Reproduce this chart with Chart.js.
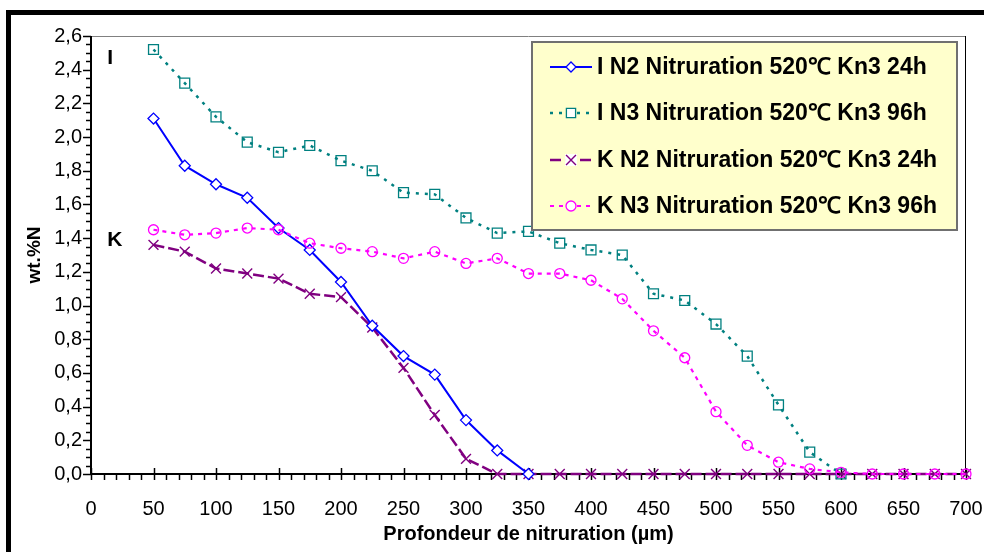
<!DOCTYPE html>
<html>
<head>
<meta charset="utf-8">
<script src="https://cdn.jsdelivr.net/npm/chart.js@4.4.1/dist/chart.umd.min.js"></script>
<style>
  html, body { margin: 0; padding: 0; background: #fff; }
  #wrap { width: 984px; height: 552px; position: relative; }
</style>
</head>
<body>
<div id="wrap"><canvas id="nitrChart" width="984" height="552"></canvas></div>
<script>
// depth in µm
const depth = [50, 75, 100, 125, 150, 175, 200, 225, 250, 275, 300, 325, 350, 375, 400,
               425, 450, 475, 500, 525, 550, 575, 600, 625, 650, 675, 700];

const iN2 = [2.11, 1.83, 1.72, 1.64, 1.46, 1.33, 1.14, 0.88, 0.70, 0.59, 0.32, 0.14, 0.00];
const iN3 = [2.52, 2.32, 2.12, 1.97, 1.91, 1.95, 1.86, 1.80, 1.67, 1.66, 1.52, 1.43, 1.44,
             1.37, 1.33, 1.30, 1.07, 1.03, 0.89, 0.70, 0.41, 0.13, 0.00];
const kN2 = [1.36, 1.32, 1.22, 1.19, 1.16, 1.07, 1.05, 0.87, 0.63, 0.35, 0.09, 0.00, 0.00,
             0.00, 0.00, 0.00, 0.00, 0.00, 0.00, 0.00, 0.00, 0.00, 0.00, 0.00, 0.00, 0.00, 0.00];
const kN3 = [1.45, 1.42, 1.43, 1.46, 1.45, 1.37, 1.34, 1.32, 1.28, 1.32, 1.25, 1.28, 1.19,
             1.19, 1.15, 1.04, 0.85, 0.69, 0.37, 0.17, 0.07, 0.03, 0.01, 0.00, 0.00, 0.00, 0.00];

const seriesNames = [
  'I N2 Nitruration 520\u2103 Kn3 24h',
  'I N3 Nitruration 520\u2103 Kn3 96h',
  'K N2 Nitruration 520\u2103 Kn3 24h',
  'K N3 Nitruration 520\u2103 Kn3 96h'
];

// little labels next to the curves
const noteText = ['I', 'K'];
const noteX = [13, 13];
const noteY = [2.47, 1.39];

const FONT = '"Liberation Sans", Arial, sans-serif';

function toPoints(vals) {
  return vals.map((v, i) => ({ x: depth[i], y: v }));
}

const datasets = [
  {
    label: seriesNames[0],
    data: toPoints(iN2),
    borderColor: '#0000ff',
    borderWidth: 2,
    borderDash: [],
    pointStyle: 'rectRot',
    pointRadius: 5.5,
    pointBorderWidth: 1.3,
    pointBackgroundColor: '#ffffff',
    pointBorderColor: '#0000ff',
    order: 2
  },
  {
    label: seriesNames[1],
    data: toPoints(iN3),
    borderColor: '#008080',
    borderWidth: 2.5,
    borderDash: [3, 6],
    pointStyle: 'rect',
    pointRadius: 7,
    pointBorderWidth: 1.3,
    pointBackgroundColor: 'rgba(255,255,255,0)',
    pointBorderColor: '#008080',
    order: 3
  },
  {
    label: seriesNames[2],
    data: toPoints(kN2),
    borderColor: '#800080',
    borderWidth: 2.5,
    borderDash: [11, 4],
    pointStyle: 'crossRot',
    pointRadius: 7,
    pointBorderWidth: 1.4,
    pointBackgroundColor: '#800080',
    pointBorderColor: '#800080',
    order: 4
  },
  {
    label: seriesNames[3],
    data: toPoints(kN3),
    borderColor: '#ff00ff',
    borderWidth: 2.2,
    borderDash: [4, 5],
    pointStyle: 'circle',
    pointRadius: 5,
    pointBorderWidth: 1.3,
    pointBackgroundColor: 'rgba(255,255,255,0)',
    pointBorderColor: '#ff00ff',
    order: 1
  }
];
datasets.forEach(d => { d.tension = 0; d.clip = false; d.fill = false; });

function drawMarker(ctx, style, x, y, r) {
  ctx.beginPath();
  if (style === 'rectRot') {
    ctx.moveTo(x, y - r); ctx.lineTo(x + r, y); ctx.lineTo(x, y + r); ctx.lineTo(x - r, y); ctx.closePath();
    ctx.fill(); ctx.stroke();
  } else if (style === 'rect') {
    const s = r * Math.SQRT1_2;
    ctx.rect(x - s, y - s, 2 * s, 2 * s);
    ctx.fill(); ctx.stroke();
  } else if (style === 'crossRot') {
    const s = r * Math.SQRT1_2;
    ctx.fillRect(x - s - 1, y - s - 1, 2 * s + 2, 2 * s + 2);
    ctx.moveTo(x - s, y - s); ctx.lineTo(x + s, y + s);
    ctx.moveTo(x + s, y - s); ctx.lineTo(x - s, y + s);
    ctx.stroke();
  } else {
    ctx.arc(x, y, r, 0, Math.PI * 2);
    ctx.fill(); ctx.stroke();
  }
}

// axes, tick marks and plot frame (drawn under the data)
const axesPlugin = {
  id: 'axesPlugin',
  beforeDatasetsDraw(chart) {
    const ctx = chart.ctx;
    const a = chart.chartArea;
    const xs = chart.scales.x, ys = chart.scales.y;
    ctx.save();
    // plot frame
    ctx.strokeStyle = '#808080';
    ctx.lineWidth = 1;
    ctx.beginPath();
    ctx.moveTo(a.left, a.top + 0.5); ctx.lineTo(a.right, a.top + 0.5);
    ctx.stroke();
    ctx.strokeStyle = '#000';
    ctx.beginPath();
    ctx.moveTo(a.right - 0.5, a.top); ctx.lineTo(a.right - 0.5, a.bottom);
    ctx.stroke();

    ctx.strokeStyle = '#000';
    ctx.lineWidth = 1.5;
    // y ticks
    for (let v = 0; v <= 2.6001; v += 0.05) {
      const py = Math.round(ys.getPixelForValue(v)) + 0.5;
      const major = Math.abs(v / 0.2 - Math.round(v / 0.2)) < 0.01;
      ctx.beginPath();
      ctx.moveTo(a.left - (major ? 8 : 5), py);
      ctx.lineTo(a.left, py);
      ctx.stroke();
    }
    // x ticks
    for (let v = 0; v <= 700; v += 10) {
      const px = Math.round(xs.getPixelForValue(v)) + 0.5;
      const major = v % 50 === 0;
      ctx.beginPath();
      ctx.moveTo(px, major ? a.bottom - 6 : a.bottom);
      ctx.lineTo(px, a.bottom + 6);
      ctx.stroke();
    }
    // axis lines
    ctx.lineWidth = 2;
    ctx.beginPath();
    ctx.moveTo(a.left, a.top); ctx.lineTo(a.left, a.bottom);
    ctx.lineTo(a.right, a.bottom);
    ctx.stroke();
    ctx.restore();
  },
  afterDraw(chart) {
    const ctx = chart.ctx;
    const xs = chart.scales.x, ys = chart.scales.y;
    ctx.save();
    // outer frame
    ctx.fillStyle = '#000';
    ctx.fillRect(6, 10, 978, 5);
    ctx.fillRect(6, 10, 5, 542);

    // curve labels
    ctx.font = 'bold 21px ' + FONT;
    ctx.textAlign = 'left';
    ctx.textBaseline = 'middle';
    noteText.forEach((t, i) => {
      ctx.fillText(t, xs.getPixelForValue(noteX[i]), ys.getPixelForValue(noteY[i]));
    });

    // legend box
    const bx = 532, by = 42, bw = 425, bh = 188;
    ctx.fillStyle = '#ffffcc';
    ctx.fillRect(bx, by, bw, bh);
    ctx.strokeStyle = '#707070';
    ctx.lineWidth = 2;
    ctx.strokeRect(bx, by, bw, bh);

    const rowY = [67, 113, 160, 206];
    chart.data.datasets.forEach((ds, i) => {
      const y = rowY[i];
      ctx.strokeStyle = ds.borderColor;
      ctx.lineWidth = ds.borderWidth;
      ctx.setLineDash(ds.borderDash);
      ctx.beginPath();
      ctx.moveTo(550, y); ctx.lineTo(592, y);
      ctx.stroke();
      ctx.setLineDash([]);
      ctx.lineWidth = ds.pointBorderWidth;
      ctx.strokeStyle = ds.pointBorderColor;
      ctx.fillStyle = '#ffffff';
      const r = ds.pointStyle === 'rect' ? 6.5 : (ds.pointStyle === 'crossRot' ? 7 : 5);
      drawMarker(ctx, ds.pointStyle, 571, y, r);
      ctx.fillStyle = '#000';
      ctx.font = 'bold 23px ' + FONT;
      ctx.textAlign = 'left';
      ctx.textBaseline = 'middle';
      ctx.fillText(ds.label, 597, y + 1);
    });
    ctx.restore();
  }
};

new Chart(document.getElementById('nitrChart'), {
  type: 'line',
  data: { datasets: datasets },
  options: {
    responsive: false,
    animation: false,
    layout: { padding: { left: 20, right: 18, top: 36, bottom: 0 } },
    plugins: { legend: { display: false }, tooltip: { enabled: false } },
    scales: {
      x: {
        type: 'linear',
        min: 0, max: 700,
        border: { display: false },
        grid: { display: false, drawTicks: false },
        ticks: { stepSize: 50, padding: 23, color: '#000', font: { family: FONT, size: 20 }, maxRotation: 0 },
        title: { display: true, text: 'Profondeur de nitruration (\u00b5m)', color: '#000',
                 font: { family: FONT, size: 20, weight: 'bold' }, padding: { top: 4, bottom: 6 } },
        afterFit(scale) {
          scale.height = 78;
          scale.paddingLeft = 0;
          scale.paddingRight = 0;
        }
      },
      y: {
        min: 0, max: 2.6,
        border: { display: false },
        grid: { display: false, drawTicks: false },
        ticks: { stepSize: 0.2, padding: 9, color: '#000', font: { family: FONT, size: 20 },
                 callback: v => v.toFixed(1).replace('.', ',') },
        title: { display: true, text: 'wt.%N', color: '#000',
                 font: { family: FONT, size: 19, weight: 'bold' }, padding: { top: 3, bottom: 4 } },
        afterFit(scale) {
          scale.width = 71;
          scale.paddingTop = 0;
          scale.paddingBottom = 0;
        }
      }
    }
  },
  plugins: [axesPlugin]
});
</script>
</body>
</html>
